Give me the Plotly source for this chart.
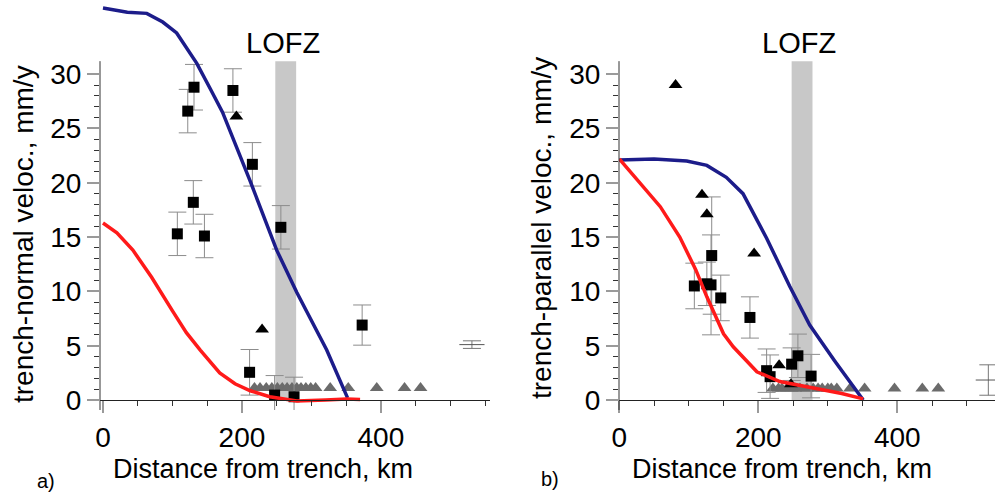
import plotly.graph_objects as go

# ---------------- Panel a) trench-normal ----------------
a_blue_x = [0, 35, 63, 86, 106, 120, 135, 154, 172, 211, 250, 279, 322, 352]
a_blue_y = [36.1, 35.7, 35.6, 34.8, 33.8, 32.4, 31.0, 28.7, 26.5, 20.3, 13.8, 9.9, 4.6, 0.2]
a_red_x = [0, 20, 43, 70, 100, 120, 140, 168, 190, 212, 240, 279, 320, 351, 370]
a_red_y = [16.3, 15.4, 13.8, 11.3, 8.2, 6.2, 4.6, 2.5, 1.5, 0.85, 0.3, -0.1, 0.0, 0.1, 0.05]

a_sq_x = [107, 122, 131, 130, 146, 187, 215, 211, 247, 256, 275, 373]
a_sq_y = [15.3, 26.6, 28.8, 18.2, 15.1, 28.5, 21.7, 2.55, 0.45, 15.9, 0.3, 6.9]
a_sq_err = [2.0, 2.0, 2.1, 2.0, 2.0, 2.0, 2.0, 2.1, 1.8, 2.0, 1.8, 1.85]

a_tri_x = [192, 229]
a_tri_y = [26.1, 6.5]

a_gtri_x = [218, 226, 235, 243, 251, 258, 265, 272, 279, 285, 292, 299, 306, 327, 353, 394, 434, 457]
a_gtri_y = [1.1] * len(a_gtri_x)

a_ref_x = [531]
a_ref_y = [5.1]
a_ref_err = [0.35]

# ---------------- Panel b) trench-parallel ----------------
b_blue_x = [0, 50, 97, 126, 154, 178, 212, 245, 274, 310, 351]
b_blue_y = [22.1, 22.2, 22.0, 21.6, 20.5, 19.0, 14.9, 10.5, 6.9, 3.6, 0.0]
b_red_x = [0, 30, 59, 87, 110, 126, 150, 164, 198, 231, 279, 320, 351]
b_red_y = [22.2, 19.9, 17.8, 15.0, 12.0, 9.5, 6.1, 4.9, 2.6, 1.7, 1.1, 0.6, 0.1]

b_sq_x = [108, 126, 132, 133, 146, 188, 212, 217, 248, 257, 276]
b_sq_y = [10.5, 10.7, 10.6, 13.3, 9.4, 7.6, 2.7, 2.15, 3.3, 4.07, 2.2]
b_sq_err = [2.1, 2.0, 4.6, 5.4, 2.1, 1.9, 2.0, 2.0, 1.5, 2.0, 2.0]

b_tri_x = [81, 119, 126, 194, 230, 247]
b_tri_y = [29.0, 18.9, 17.1, 13.5, 3.2, 1.45]

b_gtri_x = [221, 229, 234, 241, 248, 253, 260, 270, 279, 286, 292, 300, 305, 313, 332, 353, 396, 436, 459]
b_gtri_y = [1.05] * len(b_gtri_x)

b_ref_x = [531]
b_ref_y = [1.84]
b_ref_err = [1.4]

lofz = [248, 278]
y_top = 31.2

yticks = [0, 5, 10, 15, 20, 25, 30]
yminor = list(range(0, 31))
xticks = [0, 200, 400]

BLUE = "#1c1c8a"
RED = "#ff1a1a"
ERR = "#8c8c8c"
GRAY_TRI = "#6b6b6b"

fig = go.Figure()


def add_panel(xa, ya, bx, by, rx, ry, sx, sy, se, tx, ty, gx, gy, px, py, pe):
    fig.add_trace(go.Scatter(x=gx, y=gy, mode="markers", xaxis=xa, yaxis=ya,
                             marker=dict(symbol="triangle-up", size=12, color=GRAY_TRI),
                             showlegend=False, cliponaxis=False))
    fig.add_trace(go.Scatter(x=sx, y=sy, mode="markers", xaxis=xa, yaxis=ya,
                             marker=dict(symbol="square", size=11, color="black"),
                             error_y=dict(type="data", array=se, color=ERR, thickness=1, width=9),
                             showlegend=False, cliponaxis=False))
    fig.add_trace(go.Scatter(x=tx, y=ty, mode="markers", xaxis=xa, yaxis=ya,
                             marker=dict(symbol="triangle-up", size=12, color="black"),
                             showlegend=False, cliponaxis=False))
    fig.add_trace(go.Scatter(x=px, y=py, mode="markers", xaxis=xa, yaxis=ya,
                             marker=dict(symbol="line-ew", size=18, line=dict(color="#555", width=1)),
                             error_y=dict(type="data", array=pe, color="#777", thickness=1, width=9),
                             showlegend=False, cliponaxis=False))
    fig.add_trace(go.Scatter(x=bx, y=by, mode="lines", xaxis=xa, yaxis=ya,
                             line=dict(color=BLUE, width=3.5), showlegend=False))
    fig.add_trace(go.Scatter(x=rx, y=ry, mode="lines", xaxis=xa, yaxis=ya,
                             line=dict(color=RED, width=3.5), showlegend=False))


add_panel("x", "y", a_blue_x, a_blue_y, a_red_x, a_red_y, a_sq_x, a_sq_y, a_sq_err,
          a_tri_x, a_tri_y, a_gtri_x, a_gtri_y, a_ref_x, a_ref_y, a_ref_err)
add_panel("x2", "y2", b_blue_x, b_blue_y, b_red_x, b_red_y, b_sq_x, b_sq_y, b_sq_err,
          b_tri_x, b_tri_y, b_gtri_x, b_gtri_y, b_ref_x, b_ref_y, b_ref_err)

W, H = 995, 493
FONT = "Liberation Sans, Arial, Helvetica, sans-serif"

xcommon = dict(showgrid=False, zeroline=False, showline=True, linecolor="#222", linewidth=1,
               automargin=False,
               tickmode="array", tickvals=xticks, ticks="outside", ticklen=12,
               tickcolor="#9a9a9a", tickwidth=1.5, tickfont=dict(size=28, color="black", family=FONT),
               minor=dict(tickmode="linear", tick0=0, dtick=50, ticks="outside", ticklen=5,
                          tickcolor="#333", tickwidth=1),
               anchor="free", position=(H - 400) / H)
ycommon = dict(range=[-0.92, 36.83], domain=[(H - 410) / H, 1], showgrid=False, zeroline=False,
               automargin=False,
               showline=False, tickmode="array", tickvals=yticks, ticks="outside", ticklen=12,
               tickcolor="#9a9a9a", tickwidth=1.5, tickfont=dict(size=28, color="black", family=FONT),
               minor=dict(tickmode="array", tickvals=yminor, ticks="outside", ticklen=5,
                          tickcolor="#333", tickwidth=1))

fig.update_layout(
    width=W, height=H, margin=dict(l=0, r=0, t=0, b=0, autoexpand=False),
    paper_bgcolor="white", plot_bgcolor="white",
    font=dict(family=FONT, color="black"),
    xaxis=dict(xcommon, domain=[100 / W, 490 / W], range=[-4.3, 557]),
    yaxis=dict(ycommon, anchor="x"),
    xaxis2=dict(xcommon, domain=[619 / W, 1], range=[-0.4, 540.6]),
    yaxis2=dict(ycommon, anchor="x2"),
)

shapes = []
for xr, yr in (("x", "y"), ("x2", "y2")):
    shapes.append(dict(type="rect", xref=xr, yref=yr, x0=lofz[0], x1=lofz[1], y0=0, y1=y_top,
                       fillcolor="#c8c8c8", line=dict(width=0), layer="below"))
    shapes.append(dict(type="line", xref=xr + " domain", yref=yr, x0=0, x1=0, y0=-0.92, y1=y_top,
                       line=dict(color="#333", width=1), layer="above"))
fig.update_layout(shapes=shapes)

ann = []
for xr, yr in (("x", "y"), ("x2", "y2")):
    ann.append(dict(text="LOFZ", xref=xr, yref=yr, x=259, y=32.9, showarrow=False,
                    font=dict(size=29, color="black", family=FONT), xanchor="center", yanchor="middle"))
ann += [
    dict(text="trench-normal veloc., mm/y", xref="paper", yref="paper", x=23 / W, y=1 - 234 / H,
         textangle=-90, showarrow=False, font=dict(size=28, family=FONT), xanchor="center", yanchor="middle"),
    dict(text="trench-parallel veloc., mm/y", xref="paper", yref="paper", x=541 / W, y=1 - 228 / H,
         textangle=-90, showarrow=False, font=dict(size=28, family=FONT), xanchor="center", yanchor="middle"),
    dict(text="Distance from trench, km", xref="paper", yref="paper", x=263 / W, y=1 - 469 / H,
         showarrow=False, font=dict(size=27, family=FONT), xanchor="center", yanchor="middle"),
    dict(text="Distance from trench, km", xref="paper", yref="paper", x=782 / W, y=1 - 469 / H,
         showarrow=False, font=dict(size=27, family=FONT), xanchor="center", yanchor="middle"),
    dict(text="a)", xref="paper", yref="paper", x=46 / W, y=1 - 481 / H,
         showarrow=False, font=dict(size=20, family=FONT), xanchor="center", yanchor="middle"),
    dict(text="b)", xref="paper", yref="paper", x=550 / W, y=1 - 479 / H,
         showarrow=False, font=dict(size=20, family=FONT), xanchor="center", yanchor="middle"),
]
fig.update_layout(annotations=ann)

fig.write_html("out.html", config={"displayModeBar": False},
               post_script="document.body.style.margin='0px';document.body.style.padding='0px';"
                           "document.body.style.overflow='hidden';")
